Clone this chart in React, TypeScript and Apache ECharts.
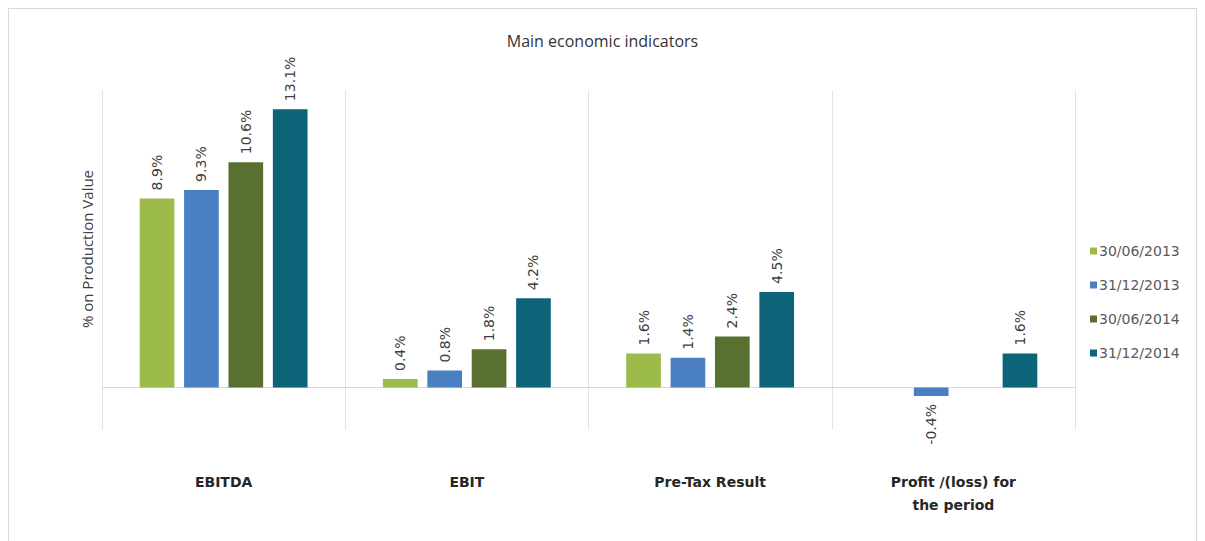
import React, { useEffect, useRef } from "react";
import * as echarts from "echarts";

const categories = ["EBITDA", "EBIT", "Pre-Tax Result", "Profit /(loss) for\nthe period"];
const seriesNames = ["30/06/2013", "31/12/2013", "30/06/2014", "31/12/2014"];
const s2013h1: (number | null)[] = [8.9, 0.4, 1.6, null];
const s2013fy: (number | null)[] = [9.3, 0.8, 1.4, -0.4];
const s2014h1: (number | null)[] = [10.6, 1.8, 2.4, null];
const s2014fy: (number | null)[] = [13.1, 4.2, 4.5, 1.6];
const colors = ["#9DBB4A", "#4A7FC1", "#587030", "#0D6378"];

export default function App() {
  const ref = useRef<HTMLDivElement>(null);
  useEffect(() => {
    if (!ref.current) return;
    const chart = echarts.init(ref.current, undefined, { renderer: "svg" });
    const all = [s2013h1, s2013fy, s2014h1, s2014fy];
    const series = all.map((arr, i) => ({
      name: seriesNames[i],
      type: "bar",
      barGap: "28%",
      barCategoryGap: "31%",
      itemStyle: { color: colors[i] },
      data: arr.map((v) =>
        v === null
          ? null
          : v < 0
          ? {
              value: v,
              label: { position: "bottom", align: "right", verticalAlign: "middle" },
            }
          : v
      ),
      label: {
        show: true,
        position: "top",
        rotate: 90,
        align: "left",
        verticalAlign: "middle",
        distance: 8,
        fontSize: 14,
        color: "#404040",
        fontFamily: "DejaVu Sans",
        formatter: (p: any) => p.value.toFixed(1) + "%",
      },
    }));
    chart.setOption({
      animation: false,
      textStyle: { fontFamily: "Open Sans" },
      title: {
        text: "Main economic indicators",
        left: "center",
        top: 19,
        textStyle: { fontSize: 16, fontWeight: "normal", color: "#333", fontFamily: "Open Sans" },
      },
      legend: {
        orient: "vertical",
        left: 1076,
        top: 230,
        itemWidth: 7,
        itemHeight: 7,
        itemGap: 20,
        icon: "rect",
        textStyle: { fontSize: 14, color: "#595959", fontFamily: "DejaVu Sans", padding: [0, 0, 0, -3] },
        data: seriesNames,
      },
      grid: { left: 93, top: 81, width: 973, height: 340, outerBoundsMode: "none" },
      xAxis: {
        type: "category",
        data: categories,
        axisLine: { onZero: true, lineStyle: { color: "#d9d9d9" } },
        axisTick: { show: false },
        splitLine: { show: true, lineStyle: { color: "#e3e3e3" } },
        axisLabel: {
          margin: 40,
          fontSize: 14,
          fontWeight: "bold",
          color: "#262626",
          lineHeight: 23,
          fontFamily: "DejaVu Sans",
        },
      },
      yAxis: {
        type: "value",
        min: -2,
        max: 14,
        show: false,
        splitLine: { show: false },
      },
      graphic: [
        {
          type: "text",
          x: 78,
          y: 240,
          rotation: Math.PI / 2,
          style: {
            text: "% on Production Value",
            fontSize: 15,
            fill: "#404040",
            fontFamily: "Open Sans",
            align: "center",
            verticalAlign: "middle",
          },
        },
      ],
      series,
    });
    return () => chart.dispose();
  }, []);
  return (
    <div
      ref={ref}
      style={{
        width: 1189,
        height: 545,
        boxSizing: "border-box",
        border: "1px solid #d9d9d9",
      }}
    />
  );
}
